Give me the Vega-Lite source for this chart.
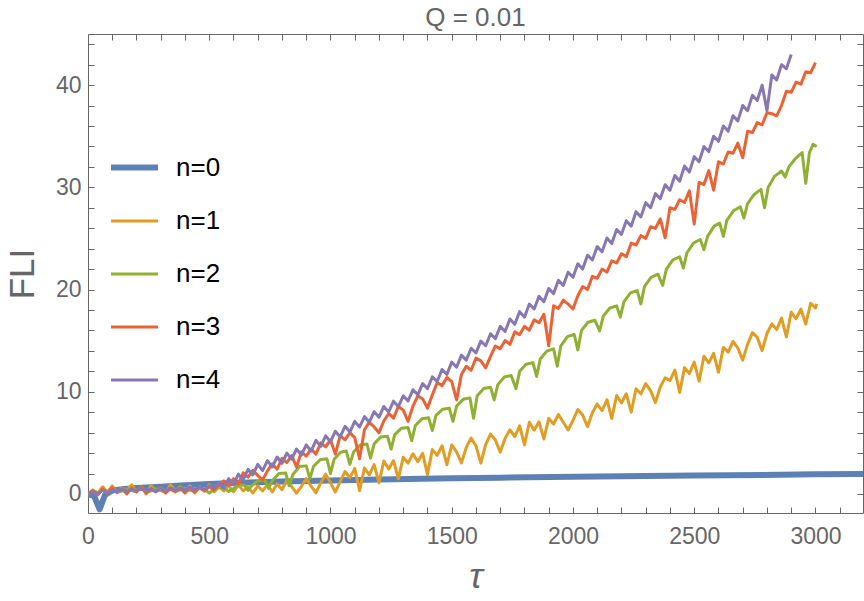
{
"$schema":"https://vega.github.io/schema/vega-lite/v6.json",
"width":775,"height":479,
"autosize":{"type":"none"},
"padding":{"left":88,"top":34,"right":1,"bottom":88},
"background":"white",
"title":{"text":"Q = 0.01","fontSize":26,"color":"#666666","font":"Liberation Sans","fontWeight":"normal","offset":2},
"config":{
"view":{"stroke":"#666666","strokeWidth":1},
"axis":{"grid":false,"domain":false,"labelFont":"Liberation Sans","labelFontSize":23,"labelColor":"#666666","tickColor":"#666666","titleFont":"Liberation Sans","titleColor":"#666666","titleFontWeight":"normal","labelFlush":false,"labelOverlap":false},
"legend":{"orient":"none","legendX":20,"legendY":107,"title":null,"symbolType":"stroke","symbolSize":2209,"labelFont":"Liberation Sans","labelFontSize":26,"labelColor":"black","labelOffset":15,"rowPadding":15}
},
"data":{"values":[
{"n":"n=0","t":0,"v":0},{"n":"n=0","t":25,"v":-0.2},{"n":"n=0","t":48,"v":-1.5},{"n":"n=0","t":70,"v":-0.1},{"n":"n=0","t":100,"v":0.35},{"n":"n=0","t":150,"v":0.5},{"n":"n=0","t":200,"v":0.58},{"n":"n=0","t":300,"v":0.7},{"n":"n=0","t":400,"v":0.85},{"n":"n=0","t":500,"v":0.98},{"n":"n=0","t":600,"v":1.08},{"n":"n=0","t":700,"v":1.15},{"n":"n=0","t":800,"v":1.22},{"n":"n=0","t":1000,"v":1.33},{"n":"n=0","t":1200,"v":1.42},{"n":"n=0","t":1500,"v":1.53},{"n":"n=0","t":1700,"v":1.6},{"n":"n=0","t":2000,"v":1.68},{"n":"n=0","t":2500,"v":1.8},{"n":"n=0","t":3000,"v":1.92},{"n":"n=0","t":3200,"v":1.96},
{"n":"n=1","t":0,"v":0},{"n":"n=1","t":20,"v":0.4},{"n":"n=1","t":40,"v":0.1},{"n":"n=1","t":60,"v":0.7},{"n":"n=1","t":80,"v":0.2},{"n":"n=1","t":100,"v":0.8},{"n":"n=1","t":120,"v":0.1},{"n":"n=1","t":140,"v":0.6},{"n":"n=1","t":160,"v":0.3},{"n":"n=1","t":180,"v":0.9},{"n":"n=1","t":200,"v":0.2},{"n":"n=1","t":220,"v":0.7},{"n":"n=1","t":240,"v":0.0},{"n":"n=1","t":260,"v":0.8},{"n":"n=1","t":280,"v":0.3},{"n":"n=1","t":300,"v":0.6},{"n":"n=1","t":320,"v":0.1},{"n":"n=1","t":340,"v":0.9},{"n":"n=1","t":360,"v":0.3},{"n":"n=1","t":380,"v":0.7},{"n":"n=1","t":400,"v":0.2},{"n":"n=1","t":420,"v":0.8},{"n":"n=1","t":440,"v":0.1},{"n":"n=1","t":460,"v":0.7},{"n":"n=1","t":480,"v":0.3},{"n":"n=1","t":500,"v":0.9},{"n":"n=1","t":520,"v":0.2},{"n":"n=1","t":540,"v":0.7},{"n":"n=1","t":560,"v":0.3},{"n":"n=1","t":580,"v":0.8},{"n":"n=1","t":600,"v":0.2},{"n":"n=1","t":620,"v":0.9},{"n":"n=1","t":640,"v":0.3},{"n":"n=1","t":660,"v":0.7},{"n":"n=1","t":680,"v":0.1},{"n":"n=1","t":700,"v":0.8},{"n":"n=1","t":720,"v":0.3},{"n":"n=1","t":740,"v":0.9},{"n":"n=1","t":760,"v":0.2},{"n":"n=1","t":780,"v":1.0},{"n":"n=1","t":800,"v":0.4},
{"n":"n=1","t":820,"v":1.36},{"n":"n=1","t":840,"v":0.72},{"n":"n=1","t":860,"v":0.08},{"n":"n=1","t":880,"v":0.74},{"n":"n=1","t":900,"v":1.5},{"n":"n=1","t":920,"v":0.76},{"n":"n=1","t":940,"v":0.12},{"n":"n=1","t":960,"v":1.08},{"n":"n=1","t":980,"v":1.94},{"n":"n=1","t":1000,"v":1.1},{"n":"n=1","t":1020,"v":0.2},{"n":"n=1","t":1040,"v":1.2},{"n":"n=1","t":1060,"v":2.2},{"n":"n=1","t":1080,"v":1.6},{"n":"n=1","t":1100,"v":2.5},{"n":"n=1","t":1120,"v":0.32},{"n":"n=1","t":1140,"v":2.54},{"n":"n=1","t":1160,"v":1.86},{"n":"n=1","t":1180,"v":2.88},{"n":"n=1","t":1200,"v":1.1},{"n":"n=1","t":1220,"v":3.22},{"n":"n=1","t":1240,"v":2.44},{"n":"n=1","t":1260,"v":3.26},{"n":"n=1","t":1280,"v":1.48},{"n":"n=1","t":1300,"v":3.6},{"n":"n=1","t":1320,"v":3.02},{"n":"n=1","t":1340,"v":3.94},{"n":"n=1","t":1360,"v":3.16},{"n":"n=1","t":1380,"v":3.98},{"n":"n=1","t":1400,"v":1.9},{"n":"n=1","t":1420,"v":4.34},{"n":"n=1","t":1440,"v":3.78},{"n":"n=1","t":1460,"v":4.72},{"n":"n=1","t":1480,"v":2.86},{"n":"n=1","t":1500,"v":4.8},{"n":"n=1","t":1520,"v":4.12},{"n":"n=1","t":1540,"v":3.04},{"n":"n=1","t":1560,"v":4.56},{"n":"n=1","t":1580,"v":5.48},{"n":"n=1","t":1600,"v":4.7},{"n":"n=1","t":1620,"v":3.02},{"n":"n=1","t":1640,"v":4.84},{"n":"n=1","t":1660,"v":5.86},{"n":"n=1","t":1680,"v":5.28},{"n":"n=1","t":1700,"v":4.1},{"n":"n=1","t":1720,"v":5.44},{"n":"n=1","t":1740,"v":6.28},{"n":"n=1","t":1760,"v":5.62},{"n":"n=1","t":1780,"v":6.66},{"n":"n=1","t":1800,"v":4.8},{"n":"n=1","t":1820,"v":7.02},{"n":"n=1","t":1840,"v":6.24},{"n":"n=1","t":1860,"v":7.06},{"n":"n=1","t":1880,"v":5.38},{"n":"n=1","t":1900,"v":7.4},{"n":"n=1","t":1920,"v":6.84},{"n":"n=1","t":1940,"v":7.78},{"n":"n=1","t":1960,"v":7.02},{"n":"n=1","t":1980,"v":6.26},{"n":"n=1","t":2000,"v":7.2},{"n":"n=1","t":2020,"v":8.26},{"n":"n=1","t":2040,"v":7.72},{"n":"n=1","t":2060,"v":6.58},{"n":"n=1","t":2080,"v":7.94},{"n":"n=1","t":2100,"v":8.8},{"n":"n=1","t":2120,"v":8.16},{"n":"n=1","t":2140,"v":9.22},{"n":"n=1","t":2160,"v":7.38},{"n":"n=1","t":2180,"v":9.64},{"n":"n=1","t":2200,"v":8.9},{"n":"n=1","t":2220,"v":9.8},{"n":"n=1","t":2240,"v":8.0},{"n":"n=1","t":2260,"v":10.3},{"n":"n=1","t":2280,"v":9.8},{"n":"n=1","t":2300,"v":10.8},{"n":"n=1","t":2320,"v":10.12},{"n":"n=1","t":2340,"v":8.94},{"n":"n=1","t":2360,"v":10.46},{"n":"n=1","t":2380,"v":11.36},{"n":"n=1","t":2400,"v":11.1},{"n":"n=1","t":2420,"v":12.12},{"n":"n=1","t":2440,"v":9.94},{"n":"n=1","t":2460,"v":12.36},{"n":"n=1","t":2480,"v":11.78},{"n":"n=1","t":2500,"v":12.9},{"n":"n=1","t":2520,"v":11.04},{"n":"n=1","t":2540,"v":13.48},{"n":"n=1","t":2560,"v":12.82},{"n":"n=1","t":2580,"v":13.76},{"n":"n=1","t":2600,"v":11.9},{"n":"n=1","t":2620,"v":14.34},{"n":"n=1","t":2640,"v":13.88},{"n":"n=1","t":2660,"v":14.92},{"n":"n=1","t":2680,"v":14.26},{"n":"n=1","t":2700,"v":13.1},{"n":"n=1","t":2720,"v":14.64},{"n":"n=1","t":2740,"v":15.78},{"n":"n=1","t":2760,"v":15.32},{"n":"n=1","t":2780,"v":14.02},{"n":"n=1","t":2800,"v":15.7},{"n":"n=1","t":2820,"v":16.64},{"n":"n=1","t":2840,"v":16.08},{"n":"n=1","t":2860,"v":17.22},{"n":"n=1","t":2880,"v":15.36},{"n":"n=1","t":2900,"v":17.8},{"n":"n=1","t":2920,"v":17.14},{"n":"n=1","t":2940,"v":18.08},{"n":"n=1","t":2960,"v":16.62},{"n":"n=1","t":2980,"v":18.66},{"n":"n=1","t":3000,"v":18.2},{"n":"n=1","t":3005,"v":18.6},
{"n":"n=2","t":0,"v":0},{"n":"n=2","t":20,"v":0.25},{"n":"n=2","t":40,"v":0.05},{"n":"n=2","t":60,"v":0.4},{"n":"n=2","t":80,"v":0.15},{"n":"n=2","t":100,"v":0.45},{"n":"n=2","t":130,"v":0.2},{"n":"n=2","t":160,"v":0.5},{"n":"n=2","t":190,"v":0.25},{"n":"n=2","t":220,"v":0.55},{"n":"n=2","t":250,"v":0.2},{"n":"n=2","t":280,"v":0.5},{"n":"n=2","t":310,"v":0.25},{"n":"n=2","t":340,"v":0.55},{"n":"n=2","t":370,"v":0.3},{"n":"n=2","t":400,"v":0.55},{"n":"n=2","t":430,"v":0.3},{"n":"n=2","t":460,"v":0.6},{"n":"n=2","t":480,"v":0.45},
{"n":"n=2","t":500,"v":0.1},{"n":"n=2","t":515,"v":0.35},{"n":"n=2","t":542,"v":0.65},{"n":"n=2","t":565,"v":0.5},
{"n":"n=2","t":580,"v":0.25},{"n":"n=2","t":595,"v":0.45},{"n":"n=2","t":622,"v":0.9},{"n":"n=2","t":645,"v":0.85},
{"n":"n=2","t":660,"v":0.35},{"n":"n=2","t":675,"v":0.8},{"n":"n=2","t":702,"v":1.32},{"n":"n=2","t":730,"v":1.3},
{"n":"n=2","t":745,"v":0.55},{"n":"n=2","t":760,"v":1.3},{"n":"n=2","t":787,"v":2.0},{"n":"n=2","t":815,"v":2.05},
{"n":"n=2","t":830,"v":0.8},{"n":"n=2","t":845,"v":1.9},{"n":"n=2","t":872,"v":2.68},{"n":"n=2","t":900,"v":2.75},
{"n":"n=2","t":915,"v":1.5},{"n":"n=2","t":930,"v":2.7},{"n":"n=2","t":957,"v":3.35},{"n":"n=2","t":985,"v":3.45},
{"n":"n=2","t":1000,"v":2.0},{"n":"n=2","t":1015,"v":3.4},{"n":"n=2","t":1042,"v":4.08},{"n":"n=2","t":1065,"v":4.2},
{"n":"n=2","t":1080,"v":2.9},{"n":"n=2","t":1095,"v":4.1},{"n":"n=2","t":1122,"v":4.8},{"n":"n=2","t":1150,"v":4.9},
{"n":"n=2","t":1165,"v":3.5},{"n":"n=2","t":1180,"v":4.9},{"n":"n=2","t":1207,"v":5.57},{"n":"n=2","t":1235,"v":5.65},
{"n":"n=2","t":1250,"v":4.4},{"n":"n=2","t":1265,"v":5.8},{"n":"n=2","t":1292,"v":6.42},{"n":"n=2","t":1320,"v":6.5},
{"n":"n=2","t":1335,"v":5.2},{"n":"n=2","t":1350,"v":6.7},{"n":"n=2","t":1377,"v":7.35},{"n":"n=2","t":1405,"v":7.45},
{"n":"n=2","t":1420,"v":6.2},{"n":"n=2","t":1435,"v":7.7},{"n":"n=2","t":1462,"v":8.28},{"n":"n=2","t":1490,"v":8.4},
{"n":"n=2","t":1505,"v":7.1},{"n":"n=2","t":1520,"v":8.6},{"n":"n=2","t":1547,"v":9.26},{"n":"n=2","t":1575,"v":9.4},
{"n":"n=2","t":1590,"v":7.4},{"n":"n=2","t":1605,"v":9.6},{"n":"n=2","t":1632,"v":10.32},{"n":"n=2","t":1660,"v":10.45},
{"n":"n=2","t":1675,"v":9.2},{"n":"n=2","t":1690,"v":10.7},{"n":"n=2","t":1717,"v":11.44},{"n":"n=2","t":1745,"v":11.6},
{"n":"n=2","t":1765,"v":10.3},{"n":"n=2","t":1780,"v":12.0},{"n":"n=2","t":1807,"v":12.7},{"n":"n=2","t":1835,"v":12.85},
{"n":"n=2","t":1850,"v":11.5},{"n":"n=2","t":1865,"v":13.2},{"n":"n=2","t":1892,"v":13.98},{"n":"n=2","t":1920,"v":14.2},
{"n":"n=2","t":1935,"v":12.5},{"n":"n=2","t":1950,"v":14.5},{"n":"n=2","t":1977,"v":15.4},{"n":"n=2","t":2005,"v":15.6},
{"n":"n=2","t":2020,"v":14.1},{"n":"n=2","t":2035,"v":16.0},{"n":"n=2","t":2062,"v":16.8},{"n":"n=2","t":2090,"v":17.0},
{"n":"n=2","t":2110,"v":15.96},{"n":"n=2","t":2125,"v":17.4},{"n":"n=2","t":2152,"v":18.2},{"n":"n=2","t":2180,"v":18.4},
{"n":"n=2","t":2195,"v":17.3},{"n":"n=2","t":2210,"v":18.8},{"n":"n=2","t":2237,"v":19.67},{"n":"n=2","t":2265,"v":19.9},
{"n":"n=2","t":2280,"v":18.6},{"n":"n=2","t":2295,"v":20.3},{"n":"n=2","t":2322,"v":21.2},{"n":"n=2","t":2350,"v":21.5},
{"n":"n=2","t":2370,"v":20.4},{"n":"n=2","t":2385,"v":22.0},{"n":"n=2","t":2412,"v":22.9},{"n":"n=2","t":2440,"v":23.2},
{"n":"n=2","t":2455,"v":22.1},{"n":"n=2","t":2470,"v":23.6},{"n":"n=2","t":2497,"v":24.55},{"n":"n=2","t":2525,"v":24.9},
{"n":"n=2","t":2540,"v":23.9},{"n":"n=2","t":2555,"v":25.2},{"n":"n=2","t":2582,"v":26.2},{"n":"n=2","t":2605,"v":26.5},
{"n":"n=2","t":2620,"v":25.2},{"n":"n=2","t":2635,"v":26.8},{"n":"n=2","t":2662,"v":27.7},{"n":"n=2","t":2690,"v":28.1},
{"n":"n=2","t":2705,"v":27.0},{"n":"n=2","t":2720,"v":28.4},{"n":"n=2","t":2747,"v":29.3},{"n":"n=2","t":2775,"v":29.8},
{"n":"n=2","t":2790,"v":28.0},{"n":"n=2","t":2805,"v":30.0},{"n":"n=2","t":2832,"v":31.1},{"n":"n=2","t":2860,"v":31.6},
{"n":"n=2","t":2875,"v":31.0},{"n":"n=2","t":2890,"v":32.0},{"n":"n=2","t":2917,"v":32.8},{"n":"n=2","t":2945,"v":33.4},
{"n":"n=2","t":2960,"v":30.4},{"n":"n=2","t":2975,"v":33.4},{"n":"n=2","t":2990,"v":34.2},{"n":"n=2","t":3005,"v":34.0},
{"n":"n=3","t":0,"v":0},{"n":"n=3","t":20,"v":0.3},{"n":"n=3","t":40,"v":-0.1},{"n":"n=3","t":60,"v":0.5},{"n":"n=3","t":80,"v":0.1},{"n":"n=3","t":100,"v":0.6},{"n":"n=3","t":120,"v":0.2},{"n":"n=3","t":140,"v":0.5},{"n":"n=3","t":160,"v":0.0},{"n":"n=3","t":180,"v":0.6},{"n":"n=3","t":200,"v":0.2},{"n":"n=3","t":220,"v":0.7},{"n":"n=3","t":240,"v":0.1},{"n":"n=3","t":260,"v":0.5},{"n":"n=3","t":280,"v":0.2},{"n":"n=3","t":300,"v":0.6},{"n":"n=3","t":320,"v":0.1},{"n":"n=3","t":340,"v":0.5},{"n":"n=3","t":360,"v":0.2},{"n":"n=3","t":380,"v":0.6},{"n":"n=3","t":400,"v":0.1},{"n":"n=3","t":420,"v":0.55},{"n":"n=3","t":440,"v":0.2},{"n":"n=3","t":460,"v":0.6},{"n":"n=3","t":480,"v":0.3},{"n":"n=3","t":500,"v":0.7},{"n":"n=3","t":520,"v":0.4},{"n":"n=3","t":540,"v":0.9},
{"n":"n=3","t":560,"v":1.28},{"n":"n=3","t":580,"v":0.84},{"n":"n=3","t":600,"v":1.5},{"n":"n=3","t":620,"v":0.98},{"n":"n=3","t":640,"v":2.06},{"n":"n=3","t":660,"v":1.64},{"n":"n=3","t":680,"v":2.32},{"n":"n=3","t":700,"v":1.8},{"n":"n=3","t":720,"v":1.38},{"n":"n=3","t":740,"v":2.26},{"n":"n=3","t":760,"v":2.94},{"n":"n=3","t":780,"v":2.42},{"n":"n=3","t":800,"v":3.5},{"n":"n=3","t":820,"v":3.08},{"n":"n=3","t":840,"v":3.76},{"n":"n=3","t":860,"v":2.64},{"n":"n=3","t":880,"v":4.12},{"n":"n=3","t":900,"v":3.7},{"n":"n=3","t":920,"v":4.4},{"n":"n=3","t":940,"v":3.9},{"n":"n=3","t":960,"v":5.0},{"n":"n=3","t":980,"v":4.6},{"n":"n=3","t":1000,"v":5.3},{"n":"n=3","t":1020,"v":3.9},{"n":"n=3","t":1040,"v":5.7},{"n":"n=3","t":1060,"v":5.3},{"n":"n=3","t":1080,"v":6.0},{"n":"n=3","t":1100,"v":5.5},{"n":"n=3","t":1120,"v":3.44},{"n":"n=3","t":1140,"v":6.28},{"n":"n=3","t":1160,"v":7.02},{"n":"n=3","t":1180,"v":6.56},{"n":"n=3","t":1200,"v":6.0},{"n":"n=3","t":1220,"v":7.14},{"n":"n=3","t":1240,"v":7.88},{"n":"n=3","t":1260,"v":7.42},{"n":"n=3","t":1280,"v":8.56},{"n":"n=3","t":1300,"v":8.2},{"n":"n=3","t":1320,"v":7.1},{"n":"n=3","t":1340,"v":8.6},{"n":"n=3","t":1360,"v":9.6},{"n":"n=3","t":1380,"v":9.3},{"n":"n=3","t":1400,"v":8.4},{"n":"n=3","t":1420,"v":9.7},{"n":"n=3","t":1440,"v":10.9},{"n":"n=3","t":1460,"v":10.6},{"n":"n=3","t":1480,"v":11.4},{"n":"n=3","t":1500,"v":11.0},{"n":"n=3","t":1520,"v":9.2},{"n":"n=3","t":1540,"v":11.7},{"n":"n=3","t":1560,"v":12.5},{"n":"n=3","t":1580,"v":12.1},{"n":"n=3","t":1600,"v":13.3},{"n":"n=3","t":1620,"v":13.02},{"n":"n=3","t":1640,"v":12.34},{"n":"n=3","t":1660,"v":13.46},{"n":"n=3","t":1680,"v":14.48},{"n":"n=3","t":1700,"v":14.2},{"n":"n=3","t":1720,"v":15.02},{"n":"n=3","t":1740,"v":14.64},{"n":"n=3","t":1760,"v":15.86},{"n":"n=3","t":1780,"v":15.58},{"n":"n=3","t":1800,"v":16.4},{"n":"n=3","t":1820,"v":16.02},{"n":"n=3","t":1840,"v":17.04},{"n":"n=3","t":1860,"v":16.76},{"n":"n=3","t":1880,"v":17.58},{"n":"n=3","t":1900,"v":14.5},{"n":"n=3","t":1920,"v":18.42},{"n":"n=3","t":1940,"v":18.14},{"n":"n=3","t":1960,"v":18.96},{"n":"n=3","t":1980,"v":18.58},{"n":"n=3","t":2000,"v":18.1},{"n":"n=3","t":2020,"v":19.4},{"n":"n=3","t":2040,"v":20.3},{"n":"n=3","t":2060,"v":20.0},{"n":"n=3","t":2080,"v":21.3},{"n":"n=3","t":2100,"v":21.1},{"n":"n=3","t":2120,"v":22.0},{"n":"n=3","t":2140,"v":21.7},{"n":"n=3","t":2160,"v":22.8},{"n":"n=3","t":2180,"v":22.6},{"n":"n=3","t":2200,"v":23.5},{"n":"n=3","t":2220,"v":23.22},{"n":"n=3","t":2240,"v":24.54},{"n":"n=3","t":2260,"v":24.36},{"n":"n=3","t":2280,"v":25.28},{"n":"n=3","t":2300,"v":25.0},{"n":"n=3","t":2320,"v":26.14},{"n":"n=3","t":2340,"v":25.98},{"n":"n=3","t":2360,"v":26.92},{"n":"n=3","t":2380,"v":25.06},{"n":"n=3","t":2400,"v":28.0},{"n":"n=3","t":2420,"v":27.84},{"n":"n=3","t":2440,"v":28.78},{"n":"n=3","t":2460,"v":28.52},{"n":"n=3","t":2480,"v":29.66},{"n":"n=3","t":2500,"v":26.4},{"n":"n=3","t":2520,"v":30.48},{"n":"n=3","t":2540,"v":30.26},{"n":"n=3","t":2560,"v":31.64},{"n":"n=3","t":2580,"v":29.72},{"n":"n=3","t":2600,"v":32.5},{"n":"n=3","t":2620,"v":32.28},{"n":"n=3","t":2640,"v":33.46},{"n":"n=3","t":2660,"v":33.34},{"n":"n=3","t":2680,"v":34.32},{"n":"n=3","t":2700,"v":32.9},{"n":"n=3","t":2720,"v":35.48},{"n":"n=3","t":2740,"v":35.36},{"n":"n=3","t":2760,"v":36.34},{"n":"n=3","t":2780,"v":36.12},{"n":"n=3","t":2800,"v":37.3},{"n":"n=3","t":2820,"v":37.2},{"n":"n=3","t":2840,"v":37.0},{"n":"n=3","t":2860,"v":38.0},{"n":"n=3","t":2880,"v":39.4},{"n":"n=3","t":2900,"v":39.3},{"n":"n=3","t":2920,"v":40.3},{"n":"n=3","t":2940,"v":40.1},{"n":"n=3","t":2960,"v":41.3},{"n":"n=3","t":2980,"v":41.2},{"n":"n=3","t":3000,"v":42.2},
{"n":"n=4","t":0,"v":0},{"n":"n=4","t":20,"v":0.2},{"n":"n=4","t":40,"v":0.05},{"n":"n=4","t":60,"v":0.35},{"n":"n=4","t":80,"v":0.1},{"n":"n=4","t":100,"v":0.4},{"n":"n=4","t":120,"v":0.2},{"n":"n=4","t":140,"v":0.5},{"n":"n=4","t":160,"v":0.25},{"n":"n=4","t":180,"v":0.45},{"n":"n=4","t":200,"v":0.3},{"n":"n=4","t":220,"v":0.55},{"n":"n=4","t":240,"v":0.3},{"n":"n=4","t":260,"v":0.5},{"n":"n=4","t":280,"v":0.25},{"n":"n=4","t":300,"v":0.55},{"n":"n=4","t":320,"v":0.3},{"n":"n=4","t":340,"v":0.6},{"n":"n=4","t":360,"v":0.35},{"n":"n=4","t":380,"v":0.55},{"n":"n=4","t":400,"v":0.35},{"n":"n=4","t":420,"v":0.65},{"n":"n=4","t":440,"v":0.4},{"n":"n=4","t":460,"v":0.7},{"n":"n=4","t":480,"v":0.45},{"n":"n=4","t":500,"v":0.8},{"n":"n=4","t":520,"v":0.6},{"n":"n=4","t":540,"v":1.1},
{"n":"n=4","t":560,"v":0.55},{"n":"n=4","t":580,"v":1.5},{"n":"n=4","t":600,"v":0.9},{"n":"n=4","t":620,"v":1.94},{"n":"n=4","t":640,"v":1.38},{"n":"n=4","t":660,"v":2.42},{"n":"n=4","t":680,"v":1.86},{"n":"n=4","t":700,"v":2.9},{"n":"n=4","t":720,"v":2.28},{"n":"n=4","t":740,"v":3.26},{"n":"n=4","t":760,"v":2.64},{"n":"n=4","t":780,"v":3.62},{"n":"n=4","t":800,"v":3.0},{"n":"n=4","t":820,"v":4.0},{"n":"n=4","t":840,"v":3.4},{"n":"n=4","t":860,"v":4.4},{"n":"n=4","t":880,"v":3.8},{"n":"n=4","t":900,"v":4.8},{"n":"n=4","t":920,"v":4.2},{"n":"n=4","t":940,"v":5.24},{"n":"n=4","t":960,"v":4.66},{"n":"n=4","t":980,"v":5.68},{"n":"n=4","t":1000,"v":5.1},{"n":"n=4","t":1020,"v":6.14},{"n":"n=4","t":1040,"v":5.58},{"n":"n=4","t":1060,"v":6.62},{"n":"n=4","t":1080,"v":6.06},{"n":"n=4","t":1100,"v":7.1},{"n":"n=4","t":1120,"v":6.54},{"n":"n=4","t":1140,"v":7.58},{"n":"n=4","t":1160,"v":7.02},{"n":"n=4","t":1180,"v":8.06},{"n":"n=4","t":1200,"v":7.5},{"n":"n=4","t":1220,"v":8.56},{"n":"n=4","t":1240,"v":8.02},{"n":"n=4","t":1260,"v":9.08},{"n":"n=4","t":1280,"v":8.54},{"n":"n=4","t":1300,"v":9.6},{"n":"n=4","t":1320,"v":9.1},{"n":"n=4","t":1340,"v":10.2},{"n":"n=4","t":1360,"v":9.7},{"n":"n=4","t":1380,"v":10.8},{"n":"n=4","t":1400,"v":10.3},{"n":"n=4","t":1420,"v":11.46},{"n":"n=4","t":1440,"v":11.0},{"n":"n=4","t":1460,"v":12.18},{"n":"n=4","t":1480,"v":11.7},{"n":"n=4","t":1500,"v":12.9},{"n":"n=4","t":1520,"v":12.4},{"n":"n=4","t":1540,"v":13.58},{"n":"n=4","t":1560,"v":13.1},{"n":"n=4","t":1580,"v":14.26},{"n":"n=4","t":1600,"v":13.8},{"n":"n=4","t":1620,"v":14.96},{"n":"n=4","t":1640,"v":14.5},{"n":"n=4","t":1660,"v":15.68},{"n":"n=4","t":1680,"v":15.2},{"n":"n=4","t":1700,"v":16.4},{"n":"n=4","t":1720,"v":15.9},{"n":"n=4","t":1740,"v":17.12},{"n":"n=4","t":1760,"v":16.6},{"n":"n=4","t":1780,"v":17.84},{"n":"n=4","t":1800,"v":17.3},{"n":"n=4","t":1820,"v":18.58},{"n":"n=4","t":1840,"v":18.1},{"n":"n=4","t":1860,"v":19.34},{"n":"n=4","t":1880,"v":18.8},{"n":"n=4","t":1900,"v":20.1},{"n":"n=4","t":1920,"v":19.6},{"n":"n=4","t":1940,"v":20.9},{"n":"n=4","t":1960,"v":20.4},{"n":"n=4","t":1980,"v":21.7},{"n":"n=4","t":2000,"v":21.2},{"n":"n=4","t":2020,"v":22.52},{"n":"n=4","t":2040,"v":22.0},{"n":"n=4","t":2060,"v":23.36},{"n":"n=4","t":2080,"v":22.9},{"n":"n=4","t":2100,"v":24.2},{"n":"n=4","t":2120,"v":23.7},{"n":"n=4","t":2140,"v":25.04},{"n":"n=4","t":2160,"v":24.5},{"n":"n=4","t":2180,"v":25.88},{"n":"n=4","t":2200,"v":25.4},{"n":"n=4","t":2220,"v":26.74},{"n":"n=4","t":2240,"v":26.2},{"n":"n=4","t":2260,"v":27.62},{"n":"n=4","t":2280,"v":27.1},{"n":"n=4","t":2300,"v":28.5},{"n":"n=4","t":2320,"v":28.0},{"n":"n=4","t":2340,"v":29.38},{"n":"n=4","t":2360,"v":28.9},{"n":"n=4","t":2380,"v":30.26},{"n":"n=4","t":2400,"v":29.7},{"n":"n=4","t":2420,"v":31.16},{"n":"n=4","t":2440,"v":30.6},{"n":"n=4","t":2460,"v":32.08},{"n":"n=4","t":2480,"v":31.5},{"n":"n=4","t":2500,"v":33.0},{"n":"n=4","t":2520,"v":32.5},{"n":"n=4","t":2540,"v":34.0},{"n":"n=4","t":2560,"v":33.5},{"n":"n=4","t":2580,"v":35.0},{"n":"n=4","t":2600,"v":34.5},{"n":"n=4","t":2620,"v":36.0},{"n":"n=4","t":2640,"v":35.5},{"n":"n=4","t":2660,"v":37.0},{"n":"n=4","t":2680,"v":36.5},{"n":"n=4","t":2700,"v":38.0},{"n":"n=4","t":2720,"v":37.5},{"n":"n=4","t":2740,"v":39.0},{"n":"n=4","t":2760,"v":38.5},{"n":"n=4","t":2780,"v":40.0},{"n":"n=4","t":2800,"v":37.5},{"n":"n=4","t":2820,"v":41.0},{"n":"n=4","t":2840,"v":40.5},{"n":"n=4","t":2860,"v":42.0},{"n":"n=4","t":2880,"v":41.6},{"n":"n=4","t":2900,"v":43.0}
]},
"layer":[
{"mark":{"type":"line","clip":true,"strokeJoin":"round"},
"encoding":{
"x":{"field":"t","type":"quantitative","scale":{"domain":[0,3196],"nice":false,"zero":false},
"axis":{"orient":"bottom","values":[0,100,200,300,400,500,600,700,800,900,1000,1100,1200,1300,1400,1500,1600,1700,1800,1900,2000,2100,2200,2300,2400,2500,2600,2700,2800,2900,3000,3100],"format":"d","labelExpr":"datum.value % 500 === 0 ? datum.label : ''","tickSize":-6,"labelPadding":18,"title":"τ","titleFontSize":36,"titleFontStyle":"italic","titlePadding":11}},
"y":{"field":"v","type":"quantitative","scale":{"domain":[-1.86,45],"nice":false,"zero":false},
"axis":{"orient":"left","values":[0,2,4,6,8,10,12,14,16,18,20,22,24,26,28,30,32,34,36,38,40,42,44],"format":"d","labelExpr":"datum.value % 10 === 0 ? datum.label : ''","tickSize":-6,"labelPadding":13,"title":"FLI","titleFontSize":35,"titlePadding":15}},
"color":{"field":"n","type":"nominal","scale":{"domain":["n=0","n=1","n=2","n=3","n=4"],"range":["#5E81B5","#E19C24","#8FB032","#EB6235","#8778B3"]},"legend":{"title":null}},
"strokeWidth":{"field":"n","type":"nominal","scale":{"type":"ordinal","domain":["n=0","n=1","n=2","n=3","n=4"],"range":[6,3,3,3,3]},"legend":{"title":null}}
}},
{"transform":[{"filter":"datum.t == 0"}],
"mark":{"type":"point","opacity":0},
"encoding":{
"x":{"field":"t","type":"quantitative","axis":{"orient":"top","values":[0,100,200,300,400,500,600,700,800,900,1000,1100,1200,1300,1400,1500,1600,1700,1800,1900,2000,2100,2200,2300,2400,2500,2600,2700,2800,2900,3000,3100],"labels":false,"title":null,"tickSize":-6}},
"y":{"field":"v","type":"quantitative","axis":{"orient":"right","values":[0,2,4,6,8,10,12,14,16,18,20,22,24,26,28,30,32,34,36,38,40,42,44],"labels":false,"title":null,"tickSize":-6}}
}}
]
}
